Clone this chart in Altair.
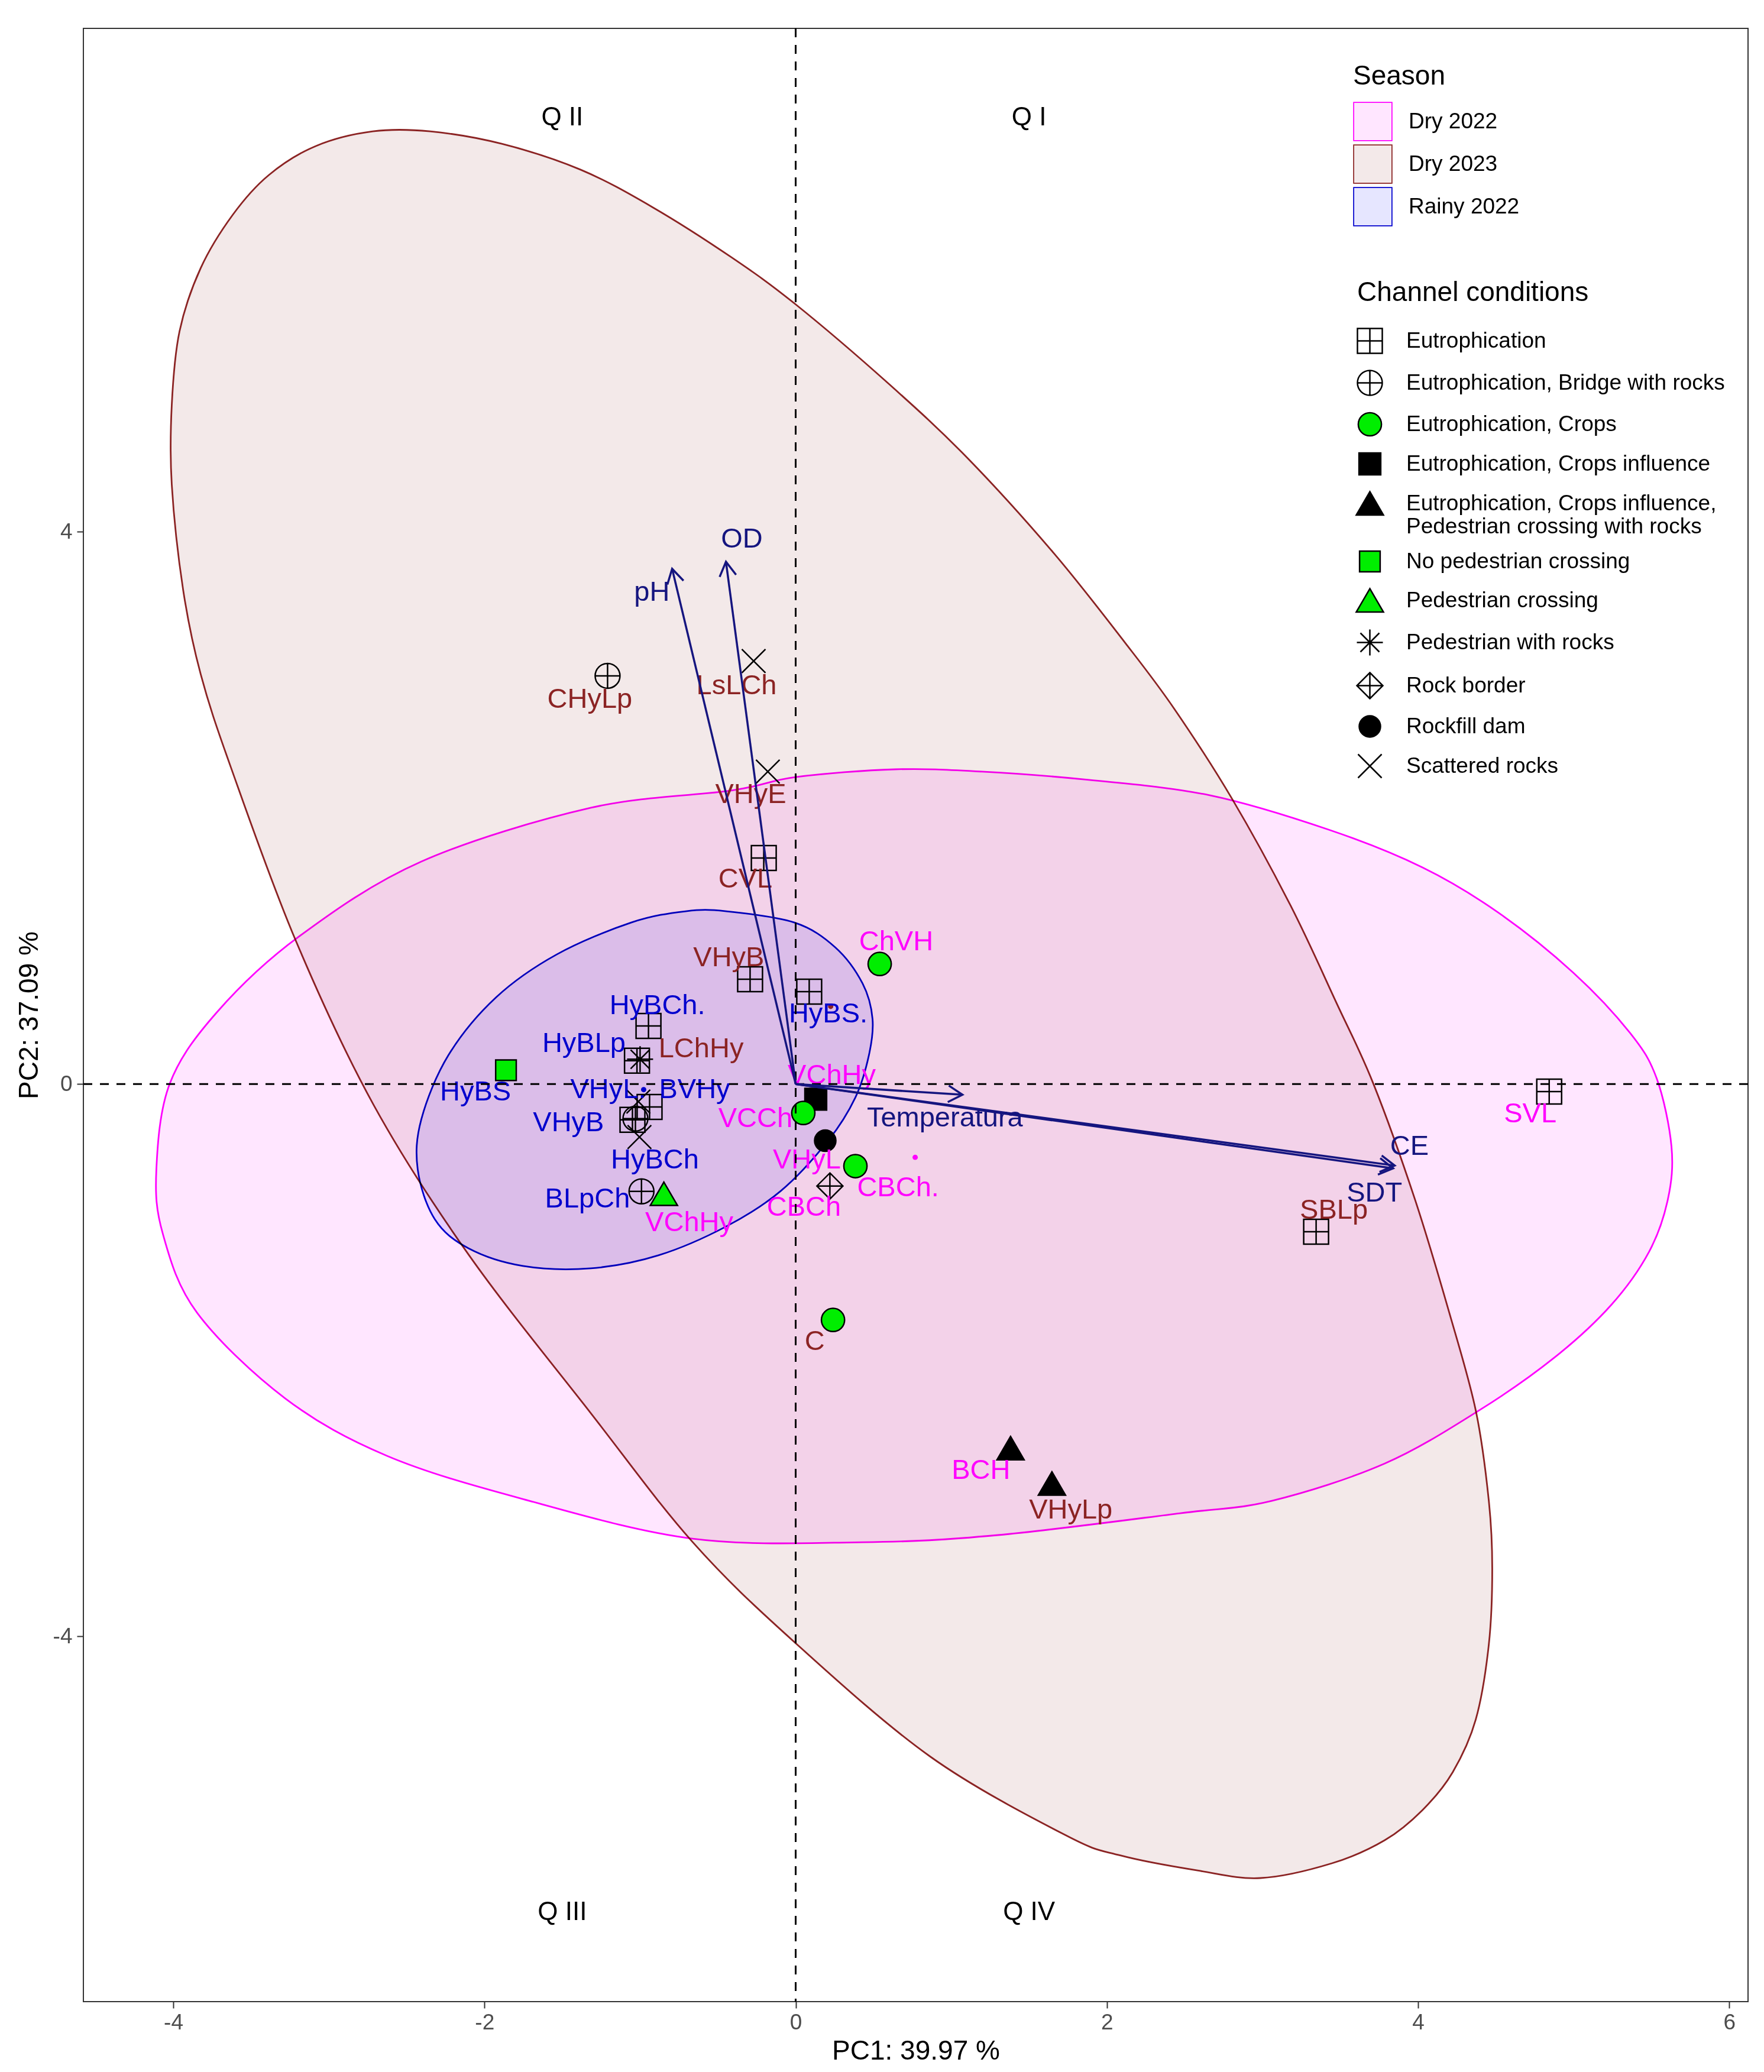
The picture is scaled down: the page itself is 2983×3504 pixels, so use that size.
import altair as alt
import pandas as pd
import numpy as np

# ---------------- data ----------------
seasons = ["Dry 2022", "Dry 2023", "Rainy 2022"]
season_colors = ["#FF00FF", "#8B2323", "#0000CD"]
season_fills = ["#FFE6FF", "#F3E9E9", "#E6E6FF"]

# ellipse outlines (data coordinates)
dry22_x = [0.000, 0.642, 1.197, 1.885, 2.661, 3.425, 4.029, 4.515, 4.998, 5.363, 5.534, 5.629, 5.606, 5.485,
           5.241, 4.876, 4.394, 3.786, 3.060, 2.471, 1.300, 0.430, -0.662, -1.753, -2.627, -3.280, -3.847,
           -4.067, -4.109, -4.022, -3.717, -3.193, -2.406, -1.315, -0.414]
dry22_y = [2.224, 2.280, 2.263, 2.203, 2.092, 1.843, 1.569, 1.243, 0.807, 0.370, 0.041, -0.452, -0.833, -1.214,
           -1.600, -1.981, -2.362, -2.748, -3.018, -3.108, -3.266, -3.318, -3.292, -3.005, -2.692, -2.277, -1.656,
           -1.086, -0.619, 0.006, 0.524, 1.068, 1.612, 2.002, 2.126]
dry23_x = [-2.718, -2.349, -1.889, -1.383, -0.923, -0.414, 0.000, 0.597, 1.102, 1.657, 2.117, 2.434, 2.807, 3.180,
           3.476, 3.714, 3.980, 4.200, 4.371, 4.455, 4.477, 4.455, 4.371, 4.223, 4.029, 3.786, 3.447, 2.987, 2.577,
           2.090, 1.737, 0.867, -0.008, -0.662, -1.316, -2.099, -2.712, -3.214, -3.628, -3.824, -3.937, -4.010,
           -4.010, -3.960, -3.824, -3.618, -3.387, -3.086]
dry23_y = [6.900, 6.900, 6.810, 6.623, 6.353, 5.989, 5.647, 5.073, 4.537, 3.848, 3.197, 2.717, 2.062, 1.295,
           0.588, 0.000, -0.834, -1.652, -2.363, -3.018, -3.510, -4.058, -4.602, -4.983, -5.257, -5.476, -5.643,
           -5.750, -5.694, -5.587, -5.441, -4.872, -4.041, -3.317, -2.384, -1.240, -0.152, 1.042, 2.288, 2.969,
           3.581, 4.343, 4.917, 5.452, 5.910, 6.296, 6.583, 6.793]
rainy22_x = [-0.445, -0.008, 0.255, 0.430, 0.494, 0.471, 0.384, 0.209, -0.095, -0.445, -0.882, -1.316, -1.753,
             -2.103, -2.319, -2.429, -2.406, -2.231, -1.927, -1.536, -1.057, -0.707]
rainy22_y = [1.252, 1.170, 0.990, 0.729, 0.472, 0.211, -0.096, -0.409, -0.773, -1.030, -1.240, -1.334, -1.317,
             -1.189, -0.979, -0.619, -0.255, 0.211, 0.627, 0.939, 1.170, 1.252]

conditions = [
    "Eutrophication",
    "Eutrophication, Bridge with rocks",
    "Eutrophication, Crops",
    "Eutrophication, Crops influence",
    "Eutrophication, Crops influence, Pedestrian crossing with rocks",
    "No pedestrian crossing",
    "Pedestrian crossing",
    "Pedestrian with rocks",
    "Rock border",
    "Rockfill dam",
    "Scattered rocks",
]
E, EB, EC, ECI, ECIP, NP, PC, PR, RB, RD, SR = conditions

pt_label = ["CHyLp", "LsLCh", "VHyE", "CVL", "VHyB", "LChHy", "C", "VHyLp", "SBLp",
            "ChVH", "VChHy", "VCCh", "VHyL", "CBCh.", "CBCh", "VChHy", "BCH", "SVL",
            "HyBS.", "HyBCh.", "HyBLp", "HyBS", "VHyL.", "BVHy", "VHyB", "HyBCh", "BLpCh", ""]
pt_season = ["Dry 2023"] * 9 + ["Dry 2022"] * 9 + ["Rainy 2022"] * 10
pt_cond = [EB, SR, SR, E, E, E, EC, ECIP, E,
           EC, ECI, EC, RD, EC, RB, PC, ECIP, E,
           E, E, PR, NP, SR, E, E, SR, EB, EB]
pt_x = [-1.209, -0.270, -0.179, -0.205, -0.293, -1.020, 0.240, 1.647, 3.345,
        0.540, 0.129, 0.049, 0.190, 0.384, 0.220, -0.847, 1.381, 4.843,
        0.087, -0.946, -1.000, -1.862, -1.011, -0.939, -1.049, -1.004, -0.991, -1.030]
pt_y = [2.957, 3.064, 2.263, 1.637, 0.760, 0.170, -1.708, -2.893, -1.069,
        0.870, -0.109, -0.209, -0.410, -0.594, -0.738, -0.795, -2.637, -0.054,
        0.670, 0.421, 0.180, 0.101, -0.126, -0.165, -0.259, -0.383, -0.777, -0.250]
lab_x = [-1.323, -0.380, -0.289, -0.323, -0.430, -0.608, 0.122, 1.768, 3.459,
         0.646, 0.232, -0.259, 0.072, 0.658, 0.053, -0.684, 1.191, 4.721,
         0.209, -0.889, -1.361, -2.058, -1.205, -0.650, -1.460, -0.905, -1.338, -1.030]
lab_y = [2.786, 2.884, 2.096, 1.483, 0.914, 0.254, -1.866, -3.086, -0.916,
         1.029, 0.062, -0.251, -0.551, -0.752, -0.892, -1.004, -2.800, -0.217,
         0.507, 0.567, 0.293, -0.058, -0.040, -0.040, -0.279, -0.553, -0.833, -0.250]

dot_season = ["Dry 2023", "Dry 2022", "Rainy 2022"]
dot_x = [0.225, 0.768, -0.977]
dot_y = [0.563, -0.530, -0.040]

arrow_var = ["pH", "OD", "Temperatura", "CE", "SDT"]
arrow_x = [-0.794, -0.448, 1.072, 3.850, 3.840]
arrow_y = [3.732, 3.783, -0.077, -0.590, -0.610]
arrow_lab_x = [-0.924, -0.346, 0.959, 3.945, 3.720]
arrow_lab_y = [3.560, 3.946, -0.246, -0.452, -0.790]

quad_label = ["Q II", "Q I", "Q III", "Q IV"]
quad_x = [-1.5, 1.5, -1.5, 1.5]
quad_y = [7.0, 7.0, -6.0, -6.0]

x_ticks = [-4, -2, 0, 2, 4, 6]
y_ticks = [-4, 0, 4]

# ---------------- styling ----------------
W, H = 2815, 3337
XD = [-4.578, 6.121]
YD = [-6.645, 7.646]
FONT = "Liberation Sans"
NAVY = "#15157F"
GREEN = "#00EE00"
LABEL_SIZE = 47

shape_paths = [
    "M-1.05,-1.05L1.05,-1.05L1.05,1.05L-1.05,1.05Z M0,-1.05L0,1.05 M-1.05,0L1.05,0",
    "M-1.05,0A1.05,1.05 0 1,1 1.05,0A1.05,1.05 0 1,1 -1.05,0Z M0,-1.05L0,1.05 M-1.05,0L1.05,0",
    "M-0.98,0A0.98,0.98 0 1,1 0.98,0A0.98,0.98 0 1,1 -0.98,0Z",
    "M-0.92,-0.92L0.92,-0.92L0.92,0.92L-0.92,0.92Z",
    "M0,-1.0L1.15,0.98L-1.15,0.98Z",
    "M-0.87,-0.87L0.87,-0.87L0.87,0.87L-0.87,0.87Z",
    "M0,-1.0L1.15,0.98L-1.15,0.98Z",
    "M0,-1.1L0,1.1 M-1.1,0L1.1,0 M-0.8,-0.8L0.8,0.8 M-0.8,0.8L0.8,-0.8",
    "M0,-1.1L1.1,0L0,1.1L-1.1,0Z M0,-1.1L0,1.1 M-1.1,0L1.1,0",
    "M-0.9,0A0.9,0.9 0 1,1 0.9,0A0.9,0.9 0 1,1 -0.9,0Z",
    "M-1.0,-1.0L1.0,1.0 M-1.0,1.0L1.0,-1.0",
]
shape_fills = ["transparent", "transparent", GREEN, "black", "black", GREEN, GREEN,
               "transparent", "transparent", "black", "transparent"]

# ---------------- frames ----------------
ell_x = dry22_x + dry23_x + rainy22_x
ell_y = dry22_y + dry23_y + rainy22_y
ell_s = ["Dry 2022"] * len(dry22_x) + ["Dry 2023"] * len(dry23_x) + ["Rainy 2022"] * len(rainy22_x)
ell_i = list(range(len(dry22_x))) + list(range(len(dry23_x))) + list(range(len(rainy22_x)))
ell = pd.DataFrame({"x": ell_x, "y": ell_y, "season": ell_s, "i": ell_i})

pts = pd.DataFrame({"x": pt_x, "y": pt_y, "lx": lab_x, "ly": lab_y, "label": pt_label,
                    "season": pt_season, "cond": pt_cond})
dots = pd.DataFrame({"x": dot_x, "y": dot_y, "season": dot_season})
px_x = W / (XD[1] - XD[0])
px_y = H / (YD[1] - YD[0])
ang = np.degrees(np.arctan2(np.array(arrow_x) * px_x, np.array(arrow_y) * px_y)) % 360
arr = pd.DataFrame({"x0": [0.0] * len(arrow_x), "y0": [0.0] * len(arrow_y), "x": arrow_x, "y": arrow_y,
                    "lx": arrow_lab_x, "ly": arrow_lab_y, "var": arrow_var, "ang": ang})
quad = pd.DataFrame({"x": quad_x, "y": quad_y, "label": quad_label})
zero = pd.DataFrame({"v": [0.0]})

xs = alt.Scale(domain=XD, nice=False, zero=False)
ys = alt.Scale(domain=YD, nice=False, zero=False)
xaxis = alt.Axis(values=x_ticks, title="PC1: 39.97 %", labelExpr="'' + datum.value")
yaxis = alt.Axis(values=y_ticks, title="PC2: 37.09 %", labelExpr="'' + datum.value")
season_scale = alt.Scale(domain=seasons, range=season_colors)
season_fill_scale = alt.Scale(domain=seasons, range=season_fills)


def X(f):
    return alt.X(f, type="quantitative", scale=xs, axis=xaxis)


def Y(f):
    return alt.Y(f, type="quantitative", scale=ys, axis=yaxis)


LEG_X, LEG_Y = 2147, 59
season_stroke_legend = alt.Legend(
    title="Season", orient="none", legendX=LEG_X, legendY=LEG_Y, symbolType="square", symbolSize=3969,
    symbolStrokeWidth=3.5, symbolFillColor="transparent", labelOffset=27, rowPadding=-5, titlePadding=19,
)
season_fill_legend = alt.Legend(
    title="Season", orient="none", legendX=LEG_X, legendY=LEG_Y, symbolType="square", symbolSize=3969,
    symbolStrokeWidth=3.5, symbolStrokeColor="transparent", labelOffset=27, rowPadding=-5, titlePadding=19,
    labelColor="transparent", titleColor="transparent",
)
ellipses = alt.Chart(ell).mark_line(interpolate="cardinal-closed", strokeWidth=2.8, blend="multiply").encode(
    x=X("x"), y=Y("y"), order=alt.Order("i:Q"), detail="season:N",
    stroke=alt.Stroke("season:N", scale=season_scale, legend=season_stroke_legend),
    fill=alt.Fill("season:N", scale=season_fill_scale, legend=season_fill_legend),
)

cond_legend = alt.Legend(
    title="Channel conditions", orient="none", legendX=2154, legendY=425,
    symbolSize=1600, symbolStrokeColor="black", symbolStrokeWidth=2.5,
    labelOffset=40, rowPadding=18, titlePadding=36, labelLimit=1500, titleLimit=1500,
    labelExpr="datum.label == '" + ECIP + "' ? ['Eutrophication, Crops influence,', ' Pedestrian crossing with rocks'] : datum.label",
)
points = alt.Chart(pts).mark_point(filled=True, size=1600, stroke="black", strokeWidth=2.5, opacity=1).encode(
    x=X("x"), y=Y("y"),
    shape=alt.Shape("cond:N", scale=alt.Scale(domain=conditions, range=shape_paths), legend=cond_legend),
    color=alt.Color("cond:N", scale=alt.Scale(domain=conditions, range=shape_fills), legend=cond_legend),
)

dots_l = alt.Chart(dots).mark_circle(size=80, opacity=1).encode(
    x=X("x"), y=Y("y"), fill=alt.Fill("season:N", scale=season_scale, legend=None),
)

labels = alt.Chart(pts).mark_text(font=FONT, fontSize=LABEL_SIZE).encode(
    x=X("lx"), y=Y("ly"), text="label:N",
    fill=alt.Fill("season:N", scale=season_scale, legend=None),
)

hline = alt.Chart(zero).mark_rule(color="black", strokeWidth=3, strokeDash=[15, 13]).encode(y=Y("v"))
vline = alt.Chart(zero).mark_rule(color="black", strokeWidth=3, strokeDash=[15, 13]).encode(x=X("v"))

arrows = alt.Chart(arr).mark_rule(color=NAVY, strokeWidth=3.5).encode(
    x=X("x0"), y=Y("y0"), x2=alt.X2("x"), y2=alt.Y2("y"))
heads = alt.Chart(arr).mark_point(shape="M-0.7,1.2L0,0L0.7,1.2", filled=False, size=1600, stroke=NAVY,
                                  strokeWidth=3.5, opacity=1).encode(
    x=X("x"), y=Y("y"), angle=alt.Angle("ang:Q", scale=None))
arrow_labels = alt.Chart(arr).mark_text(font=FONT, fontSize=LABEL_SIZE, color=NAVY).encode(
    x=X("lx"), y=Y("ly"), text="var:N")
quad_l = alt.Chart(quad).mark_text(font=FONT, fontSize=44, color="black").encode(
    x=X("x"), y=Y("y"), text="label:N")

chart = alt.layer(
    ellipses, points, dots_l, labels, hline, vline, arrows, heads, arrow_labels, quad_l
).resolve_scale(fill="independent").properties(
    width=W, height=H, padding={"left": 18, "top": 38, "right": 5, "bottom": 0}
).configure(font=FONT).configure_view(
    stroke="#333333", strokeWidth=2, fill="white"
).configure_axis(
    grid=False, domain=False, tickColor="#333333", tickWidth=2, tickSize=11,
    labelFontSize=37, labelColor="#4D4D4D", titleFontSize=46, titleFontWeight="normal",
    titleColor="black", labelFont=FONT, titleFont=FONT,
).configure_axisX(labelPadding=6, titlePadding=8).configure_axisY(labelPadding=8, titlePadding=16).configure_legend(
    labelFont=FONT, titleFont=FONT, labelFontSize=37, titleFontSize=46, titleFontWeight="normal",
    labelColor="black", titleColor="black", labelLimit=1500, titleLimit=1500, padding=0,
)

chart.save("out.html", embed_options={"renderer": "svg", "actions": False})
